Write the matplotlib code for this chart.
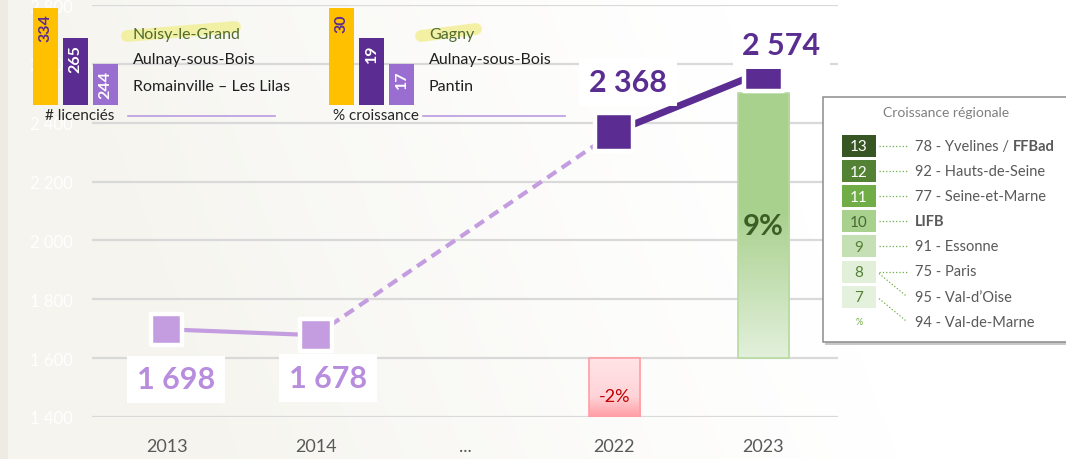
import numpy as np
import matplotlib
matplotlib.use("Agg")
import matplotlib.pyplot as plt
from matplotlib.patches import Rectangle
from matplotlib.colors import LinearSegmentedColormap

plt.rcParams['font.family'] = ['Lato', 'DejaVu Sans']

# ---------------- data ----------------
years = ["2013", "2014", "...", "2022", "2023"]
licencies_years = ["2013", "2014", "2022", "2023"]
licencies = [1698, 1678, 2368, 2574]

growth_years = ["2022", "2023"]
growth_pct = [-2, 9]

podium1_clubs = ["Noisy-le-Grand", "Aulnay-sous-Bois", "Romainville – Les Lilas"]
podium1_values = [334, 265, 244]
podium1_title = "# licenciés"
podium2_clubs = ["Gagny", "Aulnay-sous-Bois", "Pantin"]
podium2_values = [30, 19, 17]
podium2_title = "% croissance"

regional_title = "Croissance régionale"
regional_labels = ["78 - Yvelines / ", "92 - Hauts-de-Seine", "77 - Seine-et-Marne", "",
                   "91 - Essonne", "75 - Paris", "95 - Val-d\u2019Oise", "94 - Val-de-Marne"]
regional_bold = ["FFBad", "", "", "LIFB", "", "", "", ""]
regional_values = [13, 12, 11, 10, 9, 8, 8, 7]

yticks = [1400, 1600, 1800, 2000, 2200, 2400, 2600, 2800]

# ---------------- figure ----------------
W, H = 1066, 460
fig = plt.figure(figsize=(W / 100, H / 100), dpi=100)

# background
bg = fig.add_axes([0, 0, 1, 1])
bg.set_zorder(-10)
xx = np.linspace(0, 1, W)
yy = np.linspace(0, 1, H)
X, Y = np.meshgrid(xx, yy)
f = np.clip(1.0 - (X * W) / 720.0 + 0.25 * Y, 0, 1) ** 1.2
beige = np.array([245, 244, 238]) / 255.0
img = 1.0 - f[..., None] * (1.0 - beige)
img[:, :8, :] = np.array([238, 235, 227]) / 255.0
bg.imshow(img, extent=(0, W, H, 0), aspect='auto', origin='upper')
bg.set_xlim(0, W); bg.set_ylim(H, 0); bg.axis('off')

# main axes
ax = fig.add_axes([92 / W, 42 / H, 746 / W, 412 / H])
ax2 = ax.twinx()
ax.set_zorder(ax2.get_zorder() + 1)
ax.patch.set_visible(False)
ax2.patch.set_visible(False)

xpos = {y: i for i, y in enumerate(years)}
ax.set_xlim(-0.5, len(years) - 0.5)
ax.set_ylim(1400, 2800)

for a in (ax, ax2):
    for s in a.spines.values():
        s.set_visible(False)
ax.set_xticks(range(len(years)))
ax.set_xticklabels(years)
ax.tick_params(axis='x', length=0, pad=15, labelsize=13, labelcolor='#595959')
ax.set_yticks(yticks)
ax.set_yticklabels([f"{v:,}".replace(",", " ") for v in yticks])
ax.tick_params(axis='y', length=0, pad=14, labelsize=12, labelcolor='white')
ax2.set_yticks(np.arange(-2, 13, 2))
ax2.tick_params(axis='y', length=0, labelright=False)
ax2.grid(axis='y', color='#d9d9d9', lw=1.6, zorder=0)
ax2.set_axisbelow(True)

# growth bars with gradient
gx = [xpos[y] for y in growth_years]
bars = ax2.bar(gx, growth_pct, width=0.342, color='none',
               edgecolor=['#ff9ea5', '#b7da9f'], lw=1.2, zorder=3)
grad_stops = {
    True: [(0, '#e3f0dc'), (0.55, '#a9d18e'), (1, '#a9d18e')],
    False: [(0, '#ff9ca3'), (0.35, '#ffd4d8'), (1, '#ffe4e7')],
}
for b, v in zip(bars, growth_pct):
    x0, y0, w, h = b.get_x(), b.get_y(), b.get_width(), b.get_height()
    cmap = LinearSegmentedColormap.from_list('g', grad_stops[v > 0])
    grad = np.linspace(0, 1, 256).reshape(-1, 1)
    im = ax2.imshow(grad, cmap=cmap, extent=(x0, x0 + w, min(y0, y0 + h), max(y0, y0 + h)),
                    aspect='auto', origin='lower', zorder=2)
    im.set_clip_path(b)
ax2.set_xlim(-0.5, len(years) - 0.5)
ax2.set_ylim((1400 - 1600) / 100, (2800 - 1600) / 100)
for xg, v in zip(gx, growth_pct):
    if v > 0:
        ax2.text(xg, v / 2, f"{v}%", ha='center', va='center', fontsize=21,
                 fontweight='bold', color='#3b5e26', zorder=5)
    else:
        ax2.annotate(f"{v}%", (xg, v / 2), xytext=(0, -6), textcoords='offset points',
                     ha='center', va='center', fontsize=13, color='#c00000', zorder=5)

# licencies line
lx = [xpos[y] for y in licencies_years]
light, dark = '#c49ce0', '#5b2c91'
ax.plot(lx[0:2], licencies[0:2], color=light, lw=3, solid_capstyle='butt', zorder=3)
ax.plot(lx[1:3], licencies[1:3], color=light, lw=3, ls=(0, (2.6, 1.6)), zorder=3)
ax.plot(lx[2:4], licencies[2:4], color=dark, lw=5, solid_capstyle='butt', zorder=3)
msize = [22.7, 22.7, 27.7, 27.7]
mcol = [light, light, dark, dark]
ax.scatter(lx, licencies, s=np.array(msize) ** 2, marker='s', c=mcol,
           edgecolors='white', linewidths=3.2, zorder=4)
label_off = [(7, -36), (9, -31), (10, 36), (13, 19)]
label_col = ['#b88ddd', '#b88ddd', '#5a2d91', '#5a2d91']
for x, v, off, c in zip(lx, licencies, label_off, label_col):
    ax.annotate(f"{v:,}".replace(",", " "), (x, v), xytext=off, textcoords='offset points',
                ha='center', va='center', fontsize=22, fontweight='bold', color=c, zorder=6,
                bbox=dict(boxstyle='square,pad=0.32', fc='white', ec='none'))

# ---------------- overlay (pixel coords) ----------------
ov = fig.add_axes([0, 0, 1, 1])
ov.set_zorder(10)
ov.patch.set_visible(False)
ov.set_xlim(0, W); ov.set_ylim(H, 0); ov.axis('off')

podium_colors = ['#ffc000', '#5b2c91', '#9a6dd0']
podium_txtcol = ['#5b2c91', 'white', 'white']
podium_heights = [1.0, 0.69, 0.42]


def podium(left_px, clubs, values, title, text_x, hl, title_cx, line_x):
    pax = fig.add_axes([left_px / W, (H - 106) / H, 90 / W, 97 / H])
    pax.set_zorder(11)
    pax.patch.set_visible(False)
    pax.axis('off')
    pax.set_xlim(-0.5, 2.5); pax.set_ylim(0, 1)
    order = np.argsort(values)[::-1]
    hts = [podium_heights[list(order).index(i)] for i in range(len(values))]
    pax.bar(range(len(values)), hts, width=0.83, color=podium_colors)
    for i, (v, h) in enumerate(zip(values, hts)):
        pax.annotate(str(v), (i, h), xytext=(0, -4), textcoords='offset points',
                     rotation=90, ha='center', va='top', fontsize=11.5, fontweight='bold',
                     color=podium_txtcol[i])
    # highlight
    ov.plot(hl[0], hl[1], color='#f2ef96', lw=8.5, alpha=0.85, solid_capstyle='round', zorder=1)
    for j, (club, yy_) in enumerate(zip(clubs, [35, 60, 87])):
        ov.text(text_x, yy_, club, ha='left', va='center', fontsize=11.5,
                color='#4f6b2f' if j == 0 else '#1f1f1f', zorder=2)
    ov.text(title_cx, 116, title, ha='center', va='center', fontsize=11, color='#262626')
    ov.plot(line_x, [117, 117], color='#b99be0', lw=1.2)


podium(30.5, podium1_clubs, podium1_values, podium1_title, 133,
       ([127, 235], [37, 28]), 80, [128, 275])
podium(326.5, podium2_clubs, podium2_values, podium2_title, 429,
       ([421, 476], [37, 30]), 376, [423, 565])

# regional legend box
ov.add_patch(Rectangle((825, 100), 260, 246, fc='#c8c8c8', ec='none', zorder=3))
ov.add_patch(Rectangle((823, 98), 260, 245, fc='white', ec='#8c8c8c', lw=1.1, zorder=4))
ov.text(946, 113, regional_title, ha='center', va='center', fontsize=10, color='#7f7f7f', zorder=5)

sq_fc = {13: '#375623', 12: '#548235', 11: '#70ad47', 10: '#a9d18e',
         9: '#c5e0b4', 8: '#e2f0d9', 7: '#e4f1dc'}
sq_tc = {13: 'white', 12: 'white', 11: 'white', 10: '#4a6635',
         9: '#548235', 8: '#548235', 7: '#548235'}
uniq = sorted(set(regional_values), reverse=True)
ry0, rstep = 147, 25.1
for k, v in enumerate(uniq):
    yk = ry0 + k * rstep
    ov.add_patch(Rectangle((842, yk - 11), 34, 22, fc=sq_fc[v], ec='none', zorder=5))
    ov.text(859, yk + 0.5, str(v), ha='center', va='center', fontsize=11, color=sq_tc[v], zorder=6)
ov.text(859, ry0 + len(uniq) * rstep, "%", ha='center', va='center', fontsize=6.5,
        color='#70ad47', zorder=6)
for j, (lab, bold, v) in enumerate(zip(regional_labels, regional_bold, regional_values)):
    yj = ry0 + j * rstep
    k = uniq.index(v)
    yk = ry0 + k * rstep
    ov.plot([879, 907], [yk + (2 if k != j else 0), yj], color='#70ad47', lw=0.9, ls=':', zorder=5)
    if lab:
        t = ov.text(915, yj, lab.rstrip(), ha='left', va='center', fontsize=10.5,
                    color='#595959', zorder=6)
        if bold:
            ov.annotate(bold, xy=(1, 0.5), xycoords=t, xytext=(3, 0), textcoords='offset points',
                        ha='left', va='center', fontsize=10.5, fontweight='bold',
                        color='#595959', zorder=6)
    elif bold:
        ov.text(915, yj, bold, ha='left', va='center', fontsize=10.5, fontweight='bold',
                color='#595959', zorder=6)

fig.savefig("out.png", dpi=100)
